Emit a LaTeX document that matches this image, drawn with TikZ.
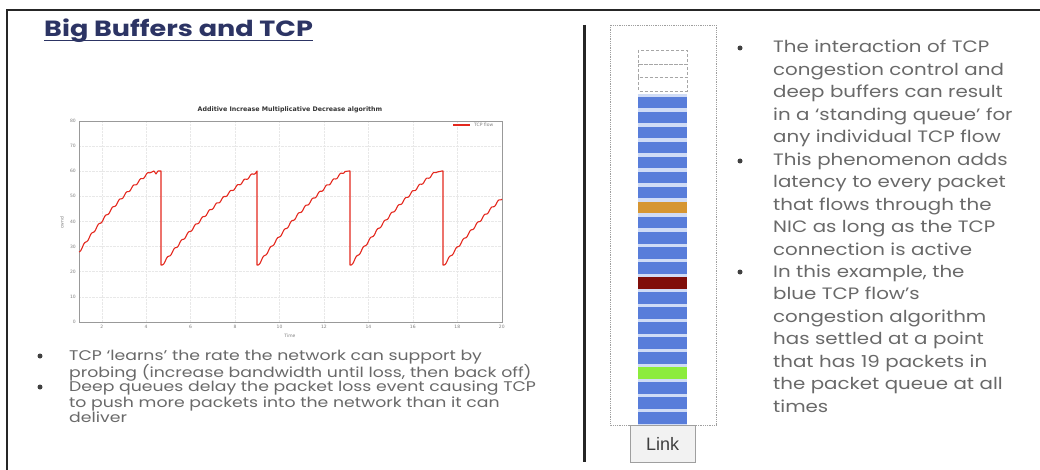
\documentclass[tikz,border=0pt]{standalone}
\usepackage{fontspec}
\setmainfont{Poppins}[FakeStretch=1.2]
\newfontfamily\titlefont{Poppins}[FakeStretch=1.23]
\newfontfamily\leftfont{Poppins}[FakeStretch=1.235]
\newfontfamily\uifont{Liberation Sans}
\newfontfamily\plotfont{DejaVu Sans}

\definecolor{titlenavy}{RGB}{44,52,100}
\definecolor{bodygray}{RGB}{105,105,105}
\definecolor{qblue}{RGB}{88,125,218}
\definecolor{qgap}{RGB}{208,220,246}
\definecolor{qorange}{RGB}{214,150,50}
\definecolor{qdarkred}{RGB}{128,14,10}
\definecolor{qgreen}{RGB}{140,236,60}
\definecolor{cwndred}{RGB}{228,40,30}

% one additive-increase ramp: start x, nominal end x, start y, end y, last x drawn
\newcommand\sawrise[5]{%
  plot[domain=#1:#5, samples=200]
  (\x, {#3-(#3-#4)*((\x-#1)/(#2-#1))*(1.3-0.3*((\x-#1)/(#2-#1))) + 1.1*sin(51.4*(\x-#1))})}

\tikzset{
  bullettext/.style={anchor=base west, inner sep=0, align=left, text=bodygray},
  bulletdot/.style={fill=black!75, circle, inner sep=0, minimum size=5},
  packet/.style={fill=qblue},
  emptyslot/.style={draw=gray!70, densely dashed, line width=0.6},
  ticklbl/.style={font=\plotfont\fontsize{4.5}{5}\selectfont, text=gray, inner sep=0},
  gridline/.style={gray!18, line width=0.4, densely dotted},
  cwnd/.style={cwndred, line width=1.1, line join=round},
}

\begin{document}
\begin{tikzpicture}[x=1pt, y=-1pt]
\useasboundingbox (0,0) rectangle (1040,470);
\fill[white] (0,0) rectangle (1040,470);

% slide frame
\draw[line width=1.2, black!85] (7,470) -- (7,10) -- (1040,10);

% title
\node[anchor=base west, inner sep=0, text=titlenavy,
      font=\titlefont\fontsize{22}{26}\selectfont\bfseries] (title) at (44,37) {Big Buffers and TCP};
\draw[titlenavy, line width=1.4] ([yshift=-3.5pt]title.base west) -- ([yshift=-3.5pt]title.base east);

% ---------- AIMD chart ----------
\node[inner sep=0, font=\plotfont\bfseries\fontsize{6.3}{7}\selectfont, text=black!80] (ctitle) at (290,110)
  {Additive Increase Multiplicative Decrease algorithm};
\foreach \i [evaluate=\i as \yy using 121+25.1*\i, evaluate=\i as \lab using int(80-10*\i)] in {0,...,8} {
  \draw[gridline] (79,\yy) -- (502,\yy);
  \node[ticklbl, anchor=east] at (76,\yy) {\lab};
}
\foreach \j [evaluate=\j as \xx using 101.7+44.45*(\j-1), evaluate=\j as \lab using int(2*\j)] in {1,...,10} {
  \draw[gridline] (\xx,121) -- (\xx,322);
  \node[ticklbl, anchor=north] at (\xx,325) {\lab};
}
\draw[gray!80, line width=0.6] (79,121) rectangle (502,322);
\node[ticklbl] (xlabel) at (290,336) {Time};
\node[ticklbl, rotate=90] (ylabel) at (62,223) {cwnd};
\draw[cwnd] (453,125) -- (470,125);
\node[ticklbl, anchor=west] (legend) at (474,125) {TCP flow};

% congestion window: ramps, then halving drops
\draw[cwnd] \sawrise{79}{150}{252}{172}{150} -- (154,171) -- (156,174) -- (158,171) -- (161,171) -- (161,265) -- (162,265);
\draw[cwnd] \sawrise{162}{256}{265}{172}{256} -- (257,171) -- (257,265) -- (258,265);
\draw[cwnd] \sawrise{258}{345}{265}{171}{345} -- (349,171) -- (350,171) -- (350,265) -- (351,265);
\draw[cwnd] \sawrise{351}{437}{265}{171}{437} -- (442,171) -- (443,171) -- (443,265) -- (444,265);
\draw[cwnd] \sawrise{444}{534}{265}{171}{502};

% left bullets
\node[bulletdot] (lb1) at (40,356) {};
\node[bulletdot] (lb2) at (40,387) {};
\node[bullettext, text width=520, font=\leftfont\fontsize{14}{15.7}\selectfont] (lt1) at (69,360)
  {TCP ‘learns’ the rate the network can support by\\probing (increase bandwidth until loss, then back off)};
\node[bullettext, text width=520, font=\leftfont\fontsize{14}{15.7}\selectfont] (lt2) at (69,391.5)
  {Deep queues delay the packet loss event causing TCP\\to push more packets into the network than it can\\deliver};

% separator
\draw[line width=3, black!85] (584,25) -- (584,462);

% ---------- packet queue ----------
\draw[densely dotted, gray!75, line width=0.8] (610,25) rectangle (716,425);
\draw[emptyslot] (638,50) rectangle (687,64);
\draw[emptyslot] (638,64) rectangle (687,77.5);
\draw[emptyslot] (638,77.5) rectangle (687,91);
\fill[qgap] (638,94.5) rectangle (687,425);
\foreach \k in {0,...,21} {
  \fill[packet] (638,97+15*\k) rectangle (687,108.5+15*\k);
}
\fill[qorange]  (638,97+15*7)  rectangle (687,108.5+15*7);
\fill[qdarkred] (638,97+15*12) rectangle (687,108.5+15*12);
\fill[qgreen]   (638,97+15*18) rectangle (687,108.5+15*18);

\node[draw=gray!75, fill=gray!10, line width=0.8, minimum width=65, minimum height=37, inner sep=0,
      font=\uifont\fontsize{18}{18}\selectfont, text=black!75] (link) at (662.5,443.5) {Link};

% right bullets
\node[bulletdot] (rb1) at (740,48) {};
\node[bulletdot] (rb2) at (740,161) {};
\node[bulletdot] (rb3) at (740,272) {};
\node[bullettext, text width=270, font=\fontsize{16.5}{22.5}\selectfont] (rt1) at (773,53)
  {The interaction of TCP\\congestion control and\\deep buffers can result\\in a ‘standing queue’ for\\any individual TCP flow};
\node[bullettext, text width=270, font=\fontsize{16.5}{22.5}\selectfont] (rt2) at (773,165.5)
  {This phenomenon adds\\latency to every packet\\that flows through the\\NIC as long as the TCP\\connection is active};
\node[bullettext, text width=270, font=\fontsize{16.5}{22.5}\selectfont] (rt3) at (773,277)
  {In this example, the\\blue TCP flow’s\\congestion algorithm\\has settled at a point\\that has 19 packets in\\the packet queue at all\\times};
\end{tikzpicture}
\end{document}
